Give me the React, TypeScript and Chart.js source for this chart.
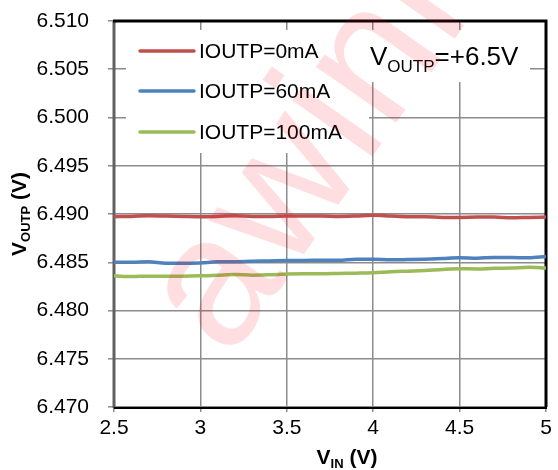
import React, { useEffect, useRef } from "react";
import { Chart, registerables } from "chart.js";

Chart.register(...registerables);

const VIN = [2.5, 2.6, 2.7, 2.8, 2.9, 3.0, 3.1, 3.2, 3.3, 3.4, 3.5, 3.6, 3.7, 3.8, 3.9, 4.0, 4.1, 4.2, 4.3, 4.4, 4.5, 4.6, 4.7, 4.8, 4.9, 5.0];
const I0 = [6.48972, 6.48975, 6.48982, 6.48979, 6.48975, 6.48972, 6.48975, 6.48982, 6.48975, 6.48975, 6.48979, 6.48979, 6.48979, 6.48975, 6.48979, 6.48986, 6.48979, 6.48972, 6.48972, 6.48965, 6.48965, 6.48968, 6.48968, 6.48961, 6.48965, 6.48968];
const I60 = [6.485, 6.485, 6.48504, 6.48489, 6.48489, 6.48493, 6.48504, 6.48504, 6.48511, 6.48514, 6.48518, 6.48518, 6.48521, 6.48521, 6.48532, 6.48532, 6.48525, 6.48528, 6.48532, 6.48539, 6.48546, 6.48542, 6.48549, 6.48549, 6.48546, 6.4856];
const I100 = [6.48359, 6.48352, 6.48356, 6.48356, 6.48356, 6.48359, 6.48366, 6.48373, 6.48366, 6.4837, 6.48377, 6.4838, 6.4838, 6.48384, 6.48387, 6.48391, 6.48401, 6.48408, 6.48415, 6.48426, 6.48433, 6.4843, 6.48437, 6.4844, 6.48447, 6.4844];
const SERIES_NAMES = ["IOUTP=0mA", "IOUTP=60mA", "IOUTP=100mA"];
const COLORS = ["#C0504D", "#4F81BD", "#9BBB59"];
const Y_MIN = 6.47;
const Y_MAX = 6.51;
const Y_STEP = 0.005;
const X_MIN = 2.5;
const X_MAX = 5;
const X_STEP = 0.5;

const FONT = "'Liberation Sans', Arial, sans-serif";

const decoPlugin = {
  id: "deco",
  beforeDatasetsDraw(chart: any) {
    const ctx = chart.ctx;
    const { left, top, right, bottom } = chart.chartArea;
    ctx.save();
    // white boxes covering grid (legend + annotation)
    ctx.fillStyle = "#ffffff";
    ctx.fillRect(left + 12, top + 9, 243, 123);
    ctx.fillRect(left + 243, top + 9, 173, 52);
    // frame
    ctx.lineCap = "butt";
    ctx.strokeStyle = "#606060";
    ctx.lineWidth = 3;
    ctx.beginPath();
    ctx.moveTo(left, top);
    ctx.lineTo(left, bottom + 1);
    ctx.stroke();
    ctx.strokeStyle = "#000";
    ctx.lineWidth = 3;
    ctx.beginPath();
    ctx.moveTo(left - 1, top);
    ctx.lineTo(right, top);
    ctx.lineTo(right, bottom);
    ctx.stroke();
    ctx.lineWidth = 2;
    ctx.beginPath();
    ctx.moveTo(left, bottom + 1);
    ctx.lineTo(right + 1, bottom + 1);
    ctx.stroke();

    // legend
    ctx.lineCap = "round";
    ctx.lineWidth = 3.5;
    ctx.font = `21px ${FONT}`;
    ctx.textBaseline = "middle";
    ctx.textAlign = "left";
    const ly = [top + 30, top + 70, top + 111];
    SERIES_NAMES.forEach((name, i) => {
      ctx.strokeStyle = COLORS[i];
      ctx.beginPath();
      ctx.moveTo(left + 26, ly[i]);
      ctx.lineTo(left + 80, ly[i]);
      ctx.stroke();
      ctx.fillStyle = "#000";
      ctx.fillText(name, left + 85, ly[i] + 1);
    });

    // annotation V_OUTP=+6.5V
    ctx.textBaseline = "alphabetic";
    let x = left + 256;
    const by = top + 44;
    ctx.font = `26px ${FONT}`;
    ctx.fillText("V", x, by);
    x += ctx.measureText("V").width;
    ctx.font = `17px ${FONT}`;
    ctx.fillText("OUTP", x, by + 7);
    x += ctx.measureText("OUTP").width;
    ctx.font = `26px ${FONT}`;
    ctx.fillText("=+6.5V", x, by);
    ctx.restore();
  },
  afterDraw(chart: any) {
    const ctx = chart.ctx;
    const { left, right, bottom } = chart.chartArea;
    ctx.save();
    ctx.fillStyle = "#000";
    // x axis title
    ctx.textBaseline = "alphabetic";
    const parts = [
      { t: "V", f: `bold 21px ${FONT}`, dy: 0 },
      { t: "IN", f: `bold 13px ${FONT}`, dy: 4 },
      { t: " (V)", f: `bold 21px ${FONT}`, dy: 0 },
    ];
    let total = 0;
    parts.forEach((p) => {
      ctx.font = p.f;
      total += ctx.measureText(p.t).width;
    });
    let x = (left + right) / 2 + 17 - total / 2;
    const by = bottom + 57;
    parts.forEach((p) => {
      ctx.font = p.f;
      ctx.fillText(p.t, x, by + p.dy);
      x += ctx.measureText(p.t).width;
    });
    // y axis title
    const yparts = [
      { t: "V", f: `bold 21px ${FONT}`, dy: 0 },
      { t: "OUTP", f: `bold 13px ${FONT}`, dy: 4 },
      { t: " (V)", f: `bold 21px ${FONT}`, dy: 0 },
    ];
    total = 0;
    yparts.forEach((p) => {
      ctx.font = p.f;
      total += ctx.measureText(p.t).width;
    });
    ctx.translate(26, (chart.chartArea.top + bottom) / 2);
    ctx.rotate(-Math.PI / 2);
    let px = -total / 2;
    yparts.forEach((p) => {
      ctx.font = p.f;
      ctx.fillText(p.t, px, p.dy);
      px += ctx.measureText(p.t).width;
    });
    ctx.restore();

    // watermark
    ctx.save();
    ctx.translate(377, 150);
    ctx.rotate((-55 * Math.PI) / 180);
    ctx.font = `185px ${FONT}`;
    ctx.textAlign = "center";
    ctx.textBaseline = "alphabetic";
    ctx.fillStyle = "rgba(255, 0, 20, 0.13)";
    ctx.fillText("awinic", 0, 0);
    ctx.restore();
  },
};

export default function App() {
  const ref = useRef<HTMLCanvasElement>(null);
  useEffect(() => {
    document.body.style.margin = "0";
    const canvas = ref.current!;
    const mk = (arr: number[]) => VIN.map((v, i) => ({ x: v, y: arr[i] }));
    const chart = new Chart(canvas, {
      type: "line",
      data: {
        datasets: [I0, I60, I100].map((arr, i) => ({
          label: SERIES_NAMES[i],
          data: mk(arr),
          borderColor: COLORS[i],
          backgroundColor: COLORS[i],
          borderWidth: 3.5,
          pointRadius: 0,
          tension: 0.4,
          cubicInterpolationMode: "monotone" as const,
        })),
      },
      options: {
        responsive: false,
        animation: false,
        layout: { padding: { top: 21, right: 12, left: 0, bottom: 0 } },
        plugins: { legend: { display: false }, tooltip: { enabled: false } },
        scales: {
          x: {
            type: "linear",
            min: X_MIN,
            max: X_MAX,
            ticks: {
              stepSize: X_STEP,
              color: "#000",
              font: { family: FONT, size: 21 },
              padding: 4,
              maxRotation: 0,
              callback: (v: any) => String(parseFloat(Number(v).toFixed(1))),
            },
            grid: { color: "#8c8c8c", lineWidth: 1.5, tickLength: 5, drawOnChartArea: true },
            border: { display: false },
            afterFit: (s: any) => {
              s.height = 63;
              s.paddingLeft = 0;
              s.paddingRight = 0;
            },
          },
          y: {
            min: Y_MIN,
            max: Y_MAX,
            ticks: {
              stepSize: Y_STEP,
              color: "#000",
              font: { family: FONT, size: 21 },
              padding: 19,
              callback: (v: any) => Number(v).toFixed(3),
            },
            grid: { color: "#8c8c8c", lineWidth: 1.5, tickLength: 6 },
            border: { display: false },
            afterFit: (s: any) => {
              s.width = 114;
              s.paddingTop = 0;
              s.paddingBottom = 0;
            },
          },
        },
      },
      plugins: [decoPlugin],
    });
    return () => chart.destroy();
  }, []);
  return (
    <div style={{ width: 558, height: 470 }}>
      <canvas ref={ref} width={558} height={470} />
    </div>
  );
}
